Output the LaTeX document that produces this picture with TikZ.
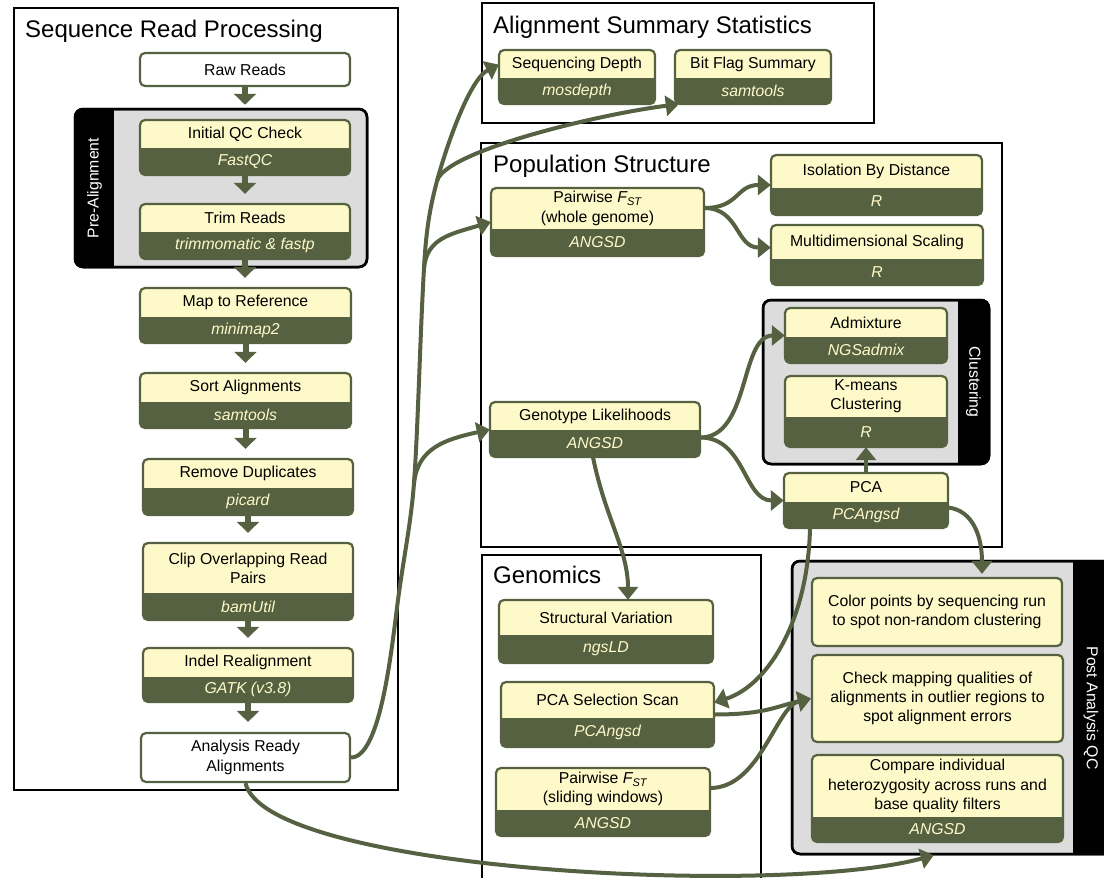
\documentclass[tikz,border=0pt]{standalone}
\usepackage{fontspec}
\setmainfont{Liberation Sans}
\usetikzlibrary{arrows.meta}
\definecolor{dk}{RGB}{86,97,66}
\definecolor{yel}{RGB}{254,249,200}
\definecolor{grp}{RGB}{220,220,220}

\newcommand{\tbox}[8]{%
  \pgfmathsetmacro\bw{#4-#2}\pgfmathsetmacro\bh{#5-#3}%
  \pgfmathsetmacro\bx{(#2+#4)/2}\pgfmathsetmacro\by{(#3+#5)/2}%
  \pgfmathsetmacro\tyA{(#3+#6)/2}\pgfmathsetmacro\tyB{(#6+#5)/2}%
  \node[tbx, minimum width=\bw pt, minimum height=\bh pt] (#1) at (\bx,\by) {};
  \begin{scope}
    \clip[rounded corners=5pt] (#2,#3) rectangle (#4,#5);
    \fill[dk] (#2,#6) rectangle (#4,#5);
  \end{scope}
  \draw[dk, line width=2.2pt, rounded corners=5pt] (#2,#3) rectangle (#4,#5);
  \node[ttl] (#1-t) at (\bx,\tyA) {#7};
  \node[tool] (#1-s) at (\bx,\tyB) {#8};
}

\begin{document}
\begin{tikzpicture}[x=1pt,y=-1pt,
  txt/.style={font=\fontsize{15.8}{19.3}\selectfont},
  ttl/.style={txt, text=black, align=center, inner sep=0pt},
  tool/.style={font=\fontsize{15.8}{19.3}\selectfont\itshape, text=yel, inner sep=0pt},
  tbx/.style={fill=yel, inner sep=0pt},
  wbx/.style={txt, draw=dk, line width=2.2pt, fill=white, rounded corners=5pt, align=center, inner sep=0pt},
  ybx/.style={txt, draw=dk, line width=2.2pt, fill=yel, rounded corners=5pt, align=center, inner sep=0pt},
  sectitle/.style={font=\fontsize{24}{28}\selectfont, anchor=base west, inner sep=0pt},
  outerbox/.style={draw=black, line width=2.2pt, fill=white},
  grpbox/.style={draw=black, line width=2.5pt, fill=grp, rounded corners=8pt, inner sep=0pt},
  rot/.style={txt, text=white, inner sep=0pt},
  conn/.style={draw=dk, line width=4pt, -{Triangle[width=20pt,length=13pt]}},
  varr/.style={draw=dk, line width=6pt, -{Triangle[width=22pt,length=11pt]}, shorten >=10pt},
]
\useasboundingbox (0,0) rectangle (1104,878);
\fill[white] (0,0) rectangle (1104,878);

% ---------- outer section boxes ----------
\draw[outerbox] (14,8) rectangle (398,790);
\draw[outerbox] (482,3) rectangle (874,123);
\draw[outerbox] (481,143) rectangle (1002,547);
\draw[outerbox] (482,555) rectangle (761,895);

\node[sectitle] (t-srp) at (25,37) {Sequence Read Processing};
\node[sectitle] (t-ass) at (493,33) {Alignment Summary Statistics};
\node[sectitle] (t-ps) at (493,172) {Population Structure};
\node[sectitle] (t-gen) at (493,583) {Genomics};

% ---------- groups ----------
\node[grpbox, minimum width=292pt, minimum height=158pt] (pre) at (221,188) {};
\begin{scope}\clip[rounded corners=8pt] (75,109) rectangle (367,267);
  \fill[black] (75,109) rectangle (114,267);\end{scope}
\draw[black, line width=2.5pt, rounded corners=8pt] (75,109) rectangle (367,267);
\node[rot, rotate=90] (pre-l) at (94.5,188) {Pre-Alignment};

\node[grpbox, minimum width=226pt, minimum height=164pt] (clu) at (876,382) {};
\begin{scope}\clip[rounded corners=8pt] (763,300) rectangle (989,464);
  \fill[black] (958,300) rectangle (989,464);\end{scope}
\draw[black, line width=2.5pt, rounded corners=8pt] (763,300) rectangle (989,464);
\node[rot, rotate=-90] (clu-l) at (973.5,382) {Clustering};

\node[grpbox, minimum width=320pt, minimum height=293pt] (pqc) at (952,707.5) {};
\begin{scope}\clip[rounded corners=8pt] (792,561) rectangle (1112,854);
  \fill[black] (1073,561) rectangle (1112,854);\end{scope}
\draw[black, line width=2.5pt, rounded corners=8pt] (792,561) rectangle (1112,854);
\node[rot, rotate=-90] (pqc-l) at (1091,708) {Post Analysis QC};

% ---------- left column ----------
\node[wbx, minimum width=210pt, minimum height=33pt] (raw) at (245,69.5) {Raw Reads};
\tbox{qc}{140}{120}{350}{175}{148}{Initial QC Check}{FastQC}
\tbox{trim}{140}{204}{350}{259}{232}{Trim Reads}{trimmomatic \& fastp}
\tbox{map}{140}{288}{351}{343}{317}{Map to Reference}{minimap2}
\tbox{sort}{140}{373}{351}{428}{402}{Sort Alignments}{samtools}
\tbox{rdup}{143}{459}{353}{515}{488}{Remove Duplicates}{picard}
\tbox{clip}{143}{543}{353}{620}{593}{Clip Overlapping Read\\Pairs}{bamUtil}
\tbox{indel}{143}{648}{353}{702}{677}{Indel Realignment}{GATK (v3.8)}
\node[wbx, minimum width=209pt, minimum height=49pt] (ara) at (245.5,757.5) {Analysis Ready\\Alignments};

% ---------- summary statistics ----------
\tbox{sd}{499}{50}{655}{104}{78}{Sequencing Depth}{mosdepth}
\tbox{bf}{675}{50}{831}{104}{78}{Bit Flag Summary}{samtools}

% ---------- population structure ----------
\tbox{pf}{491}{188}{704}{256}{229}{Pairwise \textit{F\textsubscript{ST}}\\(whole genome)}{ANGSD}
\tbox{ibd}{771}{155}{982}{215}{188}{Isolation By Distance}{R}
\tbox{mds}{771}{225}{983}{285}{259}{Multidimensional Scaling}{R}
\tbox{adm}{785}{308}{947}{363}{337}{Admixture}{NGSadmix}
\tbox{km}{785}{376}{947}{447}{417}{K-means\\Clustering}{R}
\tbox{gl}{490}{402}{700}{457}{430}{Genotype Likelihoods}{ANGSD}
\tbox{pca}{784}{473}{948}{528}{502}{PCA}{PCAngsd}

% ---------- genomics ----------
\tbox{sv}{499}{600}{713}{663}{635}{Structural Variation}{ngsLD}
\tbox{pss}{501}{682}{714}{747}{718}{PCA Selection Scan}{PCAngsd}
\tbox{pfs}{496}{768}{710}{836}{810}{Pairwise \textit{F\textsubscript{ST}}\\(sliding windows)}{ANGSD}

% ---------- post analysis QC ----------
\node[ybx, minimum width=250pt, minimum height=68pt] (cp) at (937,612) {Color points by sequencing run\\to spot non-random clustering};
\node[ybx, minimum width=251pt, minimum height=87pt] (cm) at (937.5,698.5) {Check mapping qualities of\\alignments in outlier regions to\\spot alignment errors};
\tbox{ci}{812}{755}{1063}{842}{817}{Compare individual\\heterozygosity across runs and\\base quality filters}{ANGSD}

% ---------- vertical arrows ----------
\draw[varr, shorten >=3pt] (raw.south) -- (raw.south |- pre.north);
\draw[varr] (qc.south) -- (qc.south |- trim.north);
\draw[varr] (trim.south) -- (trim.south |- map.north);
\draw[varr] (map.south) -- (map.south |- sort.north);
\draw[varr] (sort.south) -- (sort.south |- rdup.north);
\draw[varr] (rdup.south) -- (rdup.south |- clip.north);
\draw[varr] (clip.south) -- (clip.south |- indel.north);
\draw[varr] (indel.south) -- (indel.south |- ara.north);

% ---------- trunk from analysis ready alignments ----------
\coordinate (t0) at (398,600);
\coordinate (b1) at (414,483);
\coordinate (b2) at (424,268);
\coordinate (b3) at (437,181);
\draw[conn] (ara.east) .. controls +(30,0) and +(-6,45) .. (t0)
  .. controls +(6,-45) and +(-3,40) .. (b1)
  .. controls +(4,-55) and +(-4,70) .. (b2)
  .. controls +(2,-35) and +(-8,30) .. (b3)
  .. controls +(8,-30) and +(-30,15) .. (sd.171);
\draw[conn] (b1) .. controls +(4,-35) and +(-45,10) .. (gl.west);
\draw[conn] (b2) .. controls +(3,-30) and +(-40,12) .. (pf.west);
\draw[conn] (b3) .. controls +(8,-30) and +(-80,10) .. ([xshift=4pt]bf.south west);

\draw[conn] (ara.south) .. controls +(20,88) and +(-155,42) .. ([xshift=143pt]pqc.south west);

% ---------- population structure connectors ----------
\draw[conn] ([yshift=14pt]pf.east) .. controls +(35,0) and +(-35,0) .. (ibd.west);
\draw[conn] ([yshift=14pt]pf.east) .. controls +(35,0) and +(-35,0) .. (mds.176);
\draw[conn] ([yshift=-8pt]gl.east) .. controls +(50,0) and +(-45,0) .. (adm.west);
\draw[conn] ([yshift=-8pt]gl.east) .. controls +(45,0) and +(-40,0) .. (pca.west);
\draw[conn] (pca.north) -- (km.south);
\draw[conn] ([xshift=-2pt]gl.south) .. controls +(12,60) and +(0,-50) .. ([xshift=22pt]sv.north);
\draw[conn, shorten >=3pt] ([yshift=-7pt]pca.east) .. controls +(25,3) and +(0,-40) .. ([xshift=45pt]cp.north);
\draw[conn] ([xshift=-56pt]pca.south) .. controls +(-2,92) and +(54,-17) .. ([yshift=12pt]pss.east);

% ---------- genomics to QC ----------
\draw[conn] (pss.east) .. controls +(50,0) and +(-35,8) .. (cm.west);
\draw[conn] ([yshift=14pt]pfs.east) .. controls +(50,0) and +(-35,8) .. (cm.west);
\end{tikzpicture}
\end{document}
